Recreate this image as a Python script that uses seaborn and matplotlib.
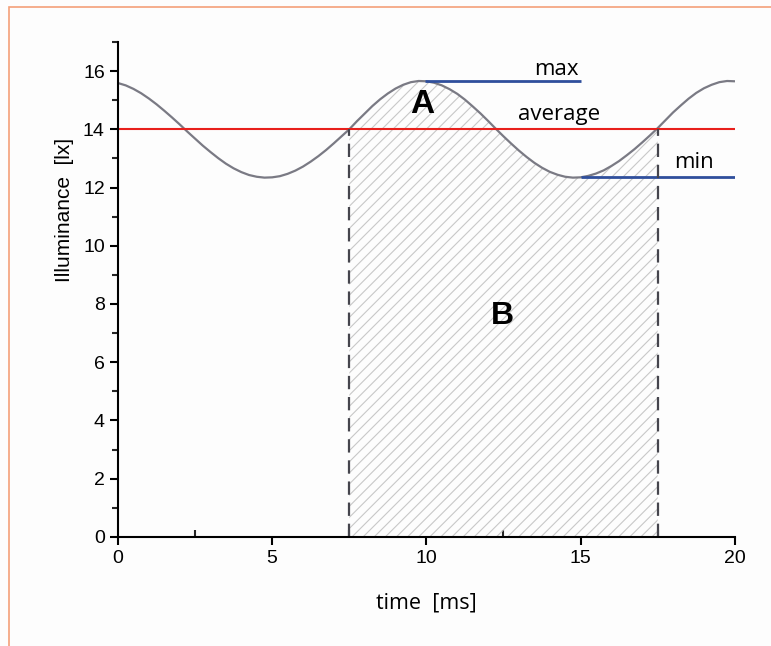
import numpy as np
import pandas as pd
import matplotlib
matplotlib.use("Agg")
import matplotlib.pyplot as plt
import seaborn as sns
from matplotlib.patches import Rectangle
from matplotlib.ticker import MultipleLocator

time_ms = [0.0, 0.25, 0.5, 0.75, 1.0, 1.25, 1.5, 1.75, 2.0, 2.25,
           2.5, 2.75, 3.0, 3.25, 3.5, 3.75, 4.0, 4.25, 4.5, 4.75,
           5.0, 5.25, 5.5, 5.75, 6.0, 6.25, 6.5, 6.75, 7.0, 7.25,
           7.5, 7.75, 8.0, 8.25, 8.5, 8.75, 9.0, 9.25, 9.5, 9.75,
           10.0, 10.25, 10.5, 10.75, 11.0, 11.25, 11.5, 11.75, 12.0, 12.25,
           12.5, 12.75, 13.0, 13.25, 13.5, 13.75, 14.0, 14.25, 14.5, 14.75,
           15.0, 15.25, 15.5, 15.75, 16.0, 16.25, 16.5, 16.75, 17.0, 17.25,
           17.5, 17.75, 18.0, 18.25, 18.5, 18.75, 19.0, 19.25, 19.5, 19.75,
           20.0]
illuminance = [15.59, 15.51, 15.39, 15.24, 15.06, 14.86, 14.64, 14.41, 14.17, 13.92,
               13.68, 13.44, 13.22, 13.01, 12.82, 12.66, 12.53, 12.43, 12.37, 12.34,
               12.35, 12.39, 12.47, 12.58, 12.72, 12.89, 13.08, 13.29, 13.52, 13.76,
               14.00, 14.28, 14.54, 14.80, 15.03, 15.23, 15.40, 15.53, 15.62, 15.66,
               15.65, 15.60, 15.51, 15.38, 15.22, 15.02, 14.79, 14.55, 14.29, 14.02,
               13.76, 13.51, 13.27, 13.05, 12.85, 12.68, 12.54, 12.44, 12.37, 12.34,
               12.35, 12.40, 12.48, 12.59, 12.74, 12.91, 13.11, 13.32, 13.55, 13.79,
               14.04, 14.31, 14.58, 14.82, 15.05, 15.25, 15.41, 15.53, 15.62, 15.66,
               15.65]

avg_level = 14.0
max_level = 15.66
min_level = 12.35
max_span = [9.95, 15.0]
min_span = [15.0, 20.0]
period_span = [7.5, 17.5]

df = pd.DataFrame({"time": time_ms, "lux": illuminance})

sns.set_style("ticks")
plt.rcParams["font.family"] = ["Liberation Sans", "DejaVu Sans"]
plt.rcParams["text.color"] = "black"
plt.rcParams["axes.labelcolor"] = "black"
plt.rcParams["hatch.linewidth"] = 0.8
plt.rcParams["hatch.color"] = "#c8c8c8"
open_sans = ["Open Sans", "DejaVu Sans"]

fig = plt.figure(figsize=(7.71, 6.46), dpi=100, facecolor="#fdfdfd")
ax = fig.add_axes([0.153, 0.169, 0.80, 0.766])
ax.set_facecolor("#fdfdfd")

# hatched area B under one period
t = df["time"].to_numpy()
in_period = (t >= period_span[0]) & (t <= period_span[1])
ax.fill_between(t, 0, df["lux"], where=in_period, facecolor="none",
                edgecolor="#c8c8c8", hatch="///", linewidth=0)

sns.lineplot(data=df, x="time", y="lux", ax=ax, color="#7a7a84", linewidth=1.6)

ax.axhline(avg_level, color="#e8201c", linewidth=1.5)
ax.hlines(max_level, max_span[0], max_span[1], color="#2f4f9c", linewidth=2)
ax.hlines(min_level, min_span[0], min_span[1], color="#2f4f9c", linewidth=2)
ax.vlines(period_span, 0, avg_level, color="#45454d", linewidth=1.6,
          linestyle=(0, (6, 3.5)))

ax.text(14.2, 16.07, "max", ha="center", va="center", fontsize=16, family=open_sans)
ax.text(14.3, 14.52, "average", ha="center", va="center", fontsize=16, family=open_sans)
ax.text(18.67, 12.85, "min", ha="center", va="center", fontsize=16, family=open_sans)
ax.text(9.85, 14.85, "A", ha="center", va="center", fontsize=24, fontweight="bold")
ax.text(12.48, 7.6, "B", ha="center", va="center", fontsize=23, fontweight="bold")

ax.set_xlim(0, 20)
ax.set_ylim(0, 17)
ax.xaxis.set_major_locator(MultipleLocator(5))
ax.xaxis.set_minor_locator(MultipleLocator(2.5))
ax.yaxis.set_major_locator(MultipleLocator(2))
ax.yaxis.set_minor_locator(MultipleLocator(1))
ax.tick_params(axis="both", which="major", direction="out", length=6, width=1.5,
               labelsize=14, color="black", labelcolor="black")
ax.tick_params(axis="x", which="minor", direction="in", length=5, width=1.5)
ax.tick_params(axis="y", which="minor", direction="out", length=4, width=1.5)

ax.set_xlabel("time  [ms]", fontsize=15.5, labelpad=18, family=open_sans)
ax.set_ylabel("Illuminance  [lx]", fontsize=15)
ax.yaxis.set_label_coords(-0.072, 0.66)

sns.despine(ax=ax)
for side in ["left", "bottom"]:
    ax.spines[side].set_linewidth(1.5)
    ax.spines[side].set_color("black")

# thin orange frame around the picture
fig.patches.append(Rectangle((9 / 771, -0.1), 1.2, (639 / 646) + 0.1,
                             transform=fig.transFigure, fill=False,
                             edgecolor="#f4a07a", linewidth=1.2))

fig.savefig("out.png", dpi=100, facecolor=fig.get_facecolor())
